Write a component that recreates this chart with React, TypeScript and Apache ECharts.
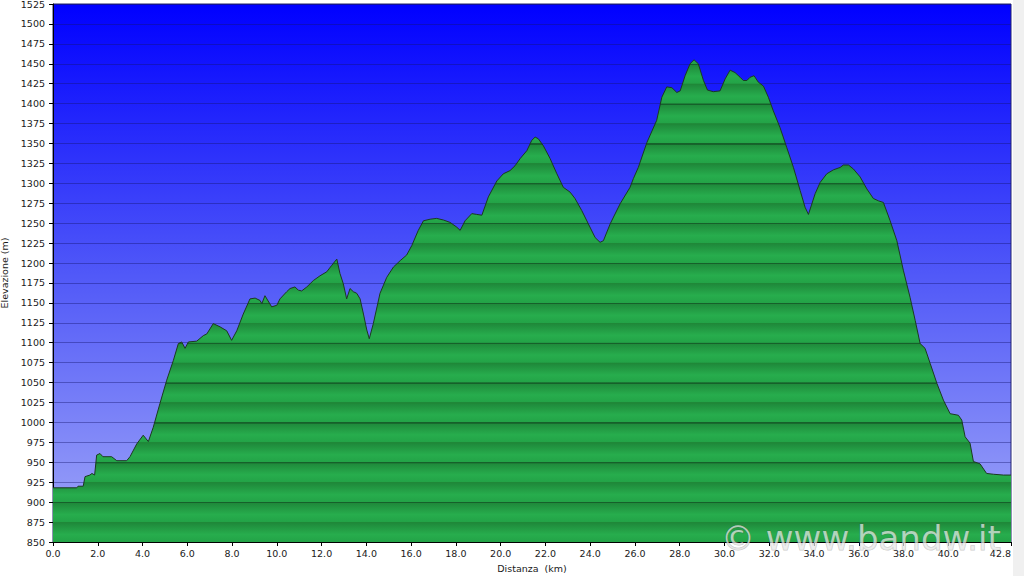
import React, { useEffect, useRef } from "react";
import * as echarts from "echarts";

// Distance along the route (km)
const distanceKm = [
  0, 1.06, 1.12, 1.35, 1.43, 1.65, 1.74, 1.86, 1.95, 2.1, 2.23, 2.62, 2.85, 3.29, 3.44, 3.74, 4.03, 4.26, 4.48, 4.78,
  5.08, 5.38, 5.6, 5.75, 5.9, 6.05, 6.42, 6.72, 6.87, 7.16, 7.46, 7.76, 7.98, 8.21, 8.5, 8.8, 9.03, 9.25, 9.33, 9.47,
  9.77, 10.0, 10.14, 10.44, 10.59, 10.81, 10.96, 11.11, 11.34, 11.63, 11.93, 12.23, 12.45, 12.68, 12.82, 12.97, 13.12,
  13.27, 13.42, 13.57, 13.72, 13.87, 14.02, 14.13, 14.31, 14.61, 14.91, 15.21, 15.51, 15.8, 16.03, 16.32, 16.55, 16.85,
  17.14, 17.44, 17.74, 18.04, 18.19, 18.41, 18.71, 18.93, 19.16, 19.45, 19.83, 20.12, 20.42, 20.64, 20.87, 21.17, 21.39,
  21.54, 21.68, 21.91, 22.21, 22.51, 22.8, 23.1, 23.32, 23.62, 23.92, 24.22, 24.44, 24.59, 24.89, 25.33, 25.78, 25.93,
  26.15, 26.53, 26.97, 27.2, 27.42, 27.65, 27.87, 28.02, 28.24, 28.46, 28.64, 28.83, 29.06, 29.24, 29.5, 29.8, 30.03,
  30.25, 30.47, 30.7, 30.84, 31.0, 31.14, 31.32, 31.51, 31.74, 31.96, 32.18, 32.48, 32.78, 33.08, 33.38, 33.6, 33.75,
  34.05, 34.27, 34.57, 34.87, 35.17, 35.31, 35.54, 35.76, 36.06, 36.36, 36.65, 36.88, 37.1, 37.4, 37.7, 37.99, 38.29,
  38.52, 38.74, 38.96, 39.19, 39.49, 39.78, 40.08, 40.45, 40.6, 40.75, 40.97, 41.12, 41.42, 41.71, 42.02, 42.46, 42.8,
];

// Elevation (m)
const elevationM = [
  918, 918, 920, 920, 932, 934, 936, 934, 959, 961, 957, 957, 952, 952, 957, 973, 984, 976, 994, 1024,
  1053, 1078, 1099, 1101, 1093, 1101, 1102, 1109, 1111, 1124, 1120, 1115, 1103, 1115, 1136, 1155, 1156, 1153, 1149, 1159,
  1145, 1147, 1155, 1164, 1168, 1170, 1166, 1165, 1170, 1178, 1184, 1189, 1197, 1205, 1187, 1174, 1155,
  1168, 1164, 1162, 1155, 1136, 1116, 1105, 1124, 1162, 1182, 1195, 1203, 1210, 1222, 1241, 1253, 1255,
  1256, 1254, 1251, 1245, 1241, 1253, 1262, 1261, 1260, 1283, 1303, 1312, 1316, 1322, 1331, 1341, 1354,
  1358, 1356, 1347, 1331, 1312, 1295, 1289, 1281, 1266, 1249, 1232, 1226, 1228, 1249, 1274, 1295, 1306,
  1320, 1351, 1379, 1408, 1421, 1420, 1414, 1416, 1435, 1450, 1455, 1450, 1429, 1417, 1415, 1416, 1431,
  1442, 1439, 1433, 1429, 1429, 1433, 1435, 1427, 1422, 1408, 1391, 1370, 1345, 1320, 1291, 1270, 1261,
  1287, 1301, 1312, 1317, 1320, 1323, 1323, 1318, 1308, 1293, 1281, 1278, 1276, 1253, 1228, 1191, 1157,
  1128, 1099, 1093, 1074, 1049, 1028, 1011, 1009, 1003, 982, 974, 951, 948, 936, 935, 934, 934,
];

// Axis settings
const yMin = 850;
const yMax = 1525;
const yStep = 25;
const xMax = 42.8;
const xLabelValues = [0, 2, 4, 6, 8, 10, 12, 14, 16, 18, 20, 22, 24, 26, 28, 30, 32, 34, 36, 38, 40, 42.8];

const xAxisTitle = "Distanza  (km)";
const yAxisTitle = "Elevazione (m)";
const watermark = "© www.bandw.it";

// layout (pixels)
const GRID_LEFT = 53;
const GRID_TOP = 4;
const GRID_WIDTH = 958;
const GRID_HEIGHT = 538;

function buildStripeStops() {
  const stops: { offset: number; color: string }[] = [];
  const span = yMax - yMin;
  for (let v = yMax; v > yMin; v -= yStep) {
    const top = (yMax - v) / span;
    const bot = (yMax - v + yStep) / span;
    const h = bot - top;
    const lineColor = v % 50 === 0 ? "#16602a" : "#1f8838";
    stops.push({ offset: top, color: lineColor });
    stops.push({ offset: top + h * 0.05, color: lineColor });
    stops.push({ offset: top + h * 0.065, color: "#1f8a3b" });
    stops.push({ offset: top + h * 0.62, color: "#27ad4d" });
    stops.push({ offset: bot - 0.0005, color: "#23a347" });
  }
  return stops;
}

export default function App() {
  const ref = useRef<HTMLDivElement>(null);

  useEffect(() => {
    if (!ref.current) return;
    const chart = echarts.init(ref.current, undefined, { renderer: "svg" });
    const data = distanceKm.map((d, i) => [d, elevationM[i]]);
    const font = "DejaVu Sans";

    chart.setOption({
      animation: false,
      backgroundColor: "#ffffff",
      grid: {
        left: GRID_LEFT,
        top: GRID_TOP,
        width: GRID_WIDTH,
        height: GRID_HEIGHT,
        containLabel: false,
        outerBoundsMode: "none",
        show: true,
        borderColor: "#22226a",
        borderWidth: 1,
        backgroundColor: new echarts.graphic.LinearGradient(0, 0, 0, 1, [
          { offset: 0, color: "#0000ff" },
          { offset: 0.5, color: "#5058f8" },
          { offset: 1, color: "#a0a7f8" },
        ]),
      },
      xAxis: {
        type: "value",
        min: 0,
        max: xMax,
        name: xAxisTitle,
        nameLocation: "middle",
        nameGap: 21,
        nameTextStyle: { fontFamily: font, fontSize: 9.5, color: "#1a1a1a" },
        axisLine: { show: true, lineStyle: { color: "#000", width: 1 } },
        axisTick: { show: true, length: 4, customValues: xLabelValues, lineStyle: { color: "#000" } },
        axisLabel: {
          customValues: xLabelValues,
          formatter: (v: number) => v.toFixed(1),
          fontFamily: font,
          fontSize: 9.5,
          color: "#1a1a1a",
          margin: 6,
          alignMaxLabel: "right",
        },
        splitLine: { show: false },
      },
      yAxis: {
        type: "value",
        min: yMin,
        max: yMax,
        interval: yStep,
        name: yAxisTitle,
        nameLocation: "middle",
        nameGap: 38,
        nameRotate: 90,
        nameTextStyle: { fontFamily: font, fontSize: 9.5, color: "#1a1a1a" },
        axisLine: { show: true, lineStyle: { color: "#000", width: 1 } },
        axisTick: { show: true, length: 4, lineStyle: { color: "#000" } },
        axisLabel: {
          fontFamily: font,
          fontSize: 9.5,
          lineHeight: 8,
          color: "#1a1a1a",
          margin: 8,
          formatter: (v: number) => String(v),
        },
        splitLine: { show: true, lineStyle: { color: "rgba(20,20,110,0.4)", width: 1 } },
      },
      series: [
        {
          type: "line",
          data,
          symbol: "none",
          smooth: false,
          lineStyle: { color: "#1c3a20", width: 1 },
          areaStyle: {
            opacity: 1,
            color: new echarts.graphic.LinearGradient(
              0,
              GRID_TOP,
              0,
              GRID_TOP + GRID_HEIGHT,
              buildStripeStops(),
              true
            ),
          },
          z: 3,
        },
      ],
      graphic: [
        {
          type: "rect",
          left: 1013,
          top: 0,
          shape: { width: 11, height: 576 },
          style: { fill: "#f0f0f0" },
          z: 10,
        },
        {
          type: "text",
          x: 721,
          y: 538,
          z: 20,
          style: {
            text: watermark,
            font: `34px ${font}`,
            fill: "rgba(232,232,232,0.72)",
            stroke: "rgba(70,70,70,0.3)",
            lineWidth: 1,
            verticalAlign: "middle",
          },
        },
      ],
    });

    return () => chart.dispose();
  }, []);

  return (
    <div
      ref={ref}
      style={{ position: "fixed", left: 0, top: 0, width: 1024, height: 576 }}
    />
  );
}
